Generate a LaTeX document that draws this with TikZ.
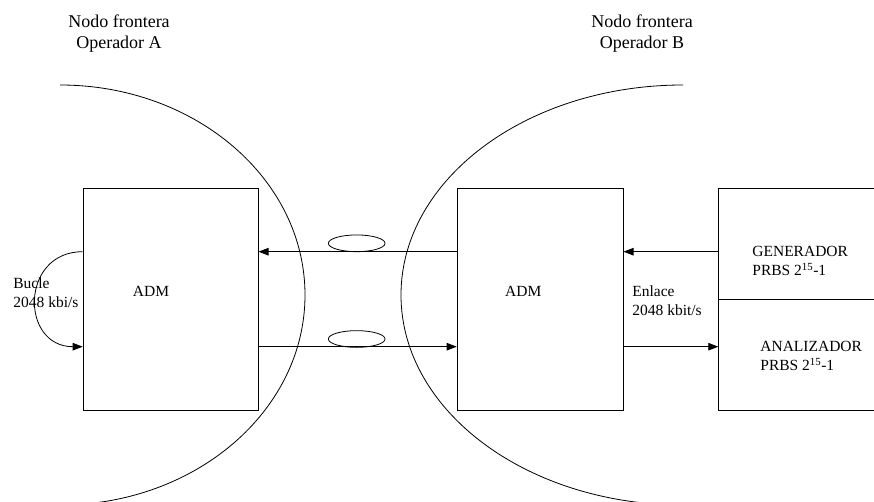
\documentclass[tikz,border=0pt]{standalone}
\usepackage{fontspec}
\setmainfont{Liberation Serif}
\usetikzlibrary{arrows.meta,shapes.geometric}
\begin{document}
\begin{tikzpicture}[x=1pt,y=-1pt,line width=0.8pt,
  box/.style={draw,rectangle,inner sep=0pt,anchor=north west},
  lbl/.style={inner sep=0pt,align=left,anchor=west,font=\fontsize{15.5}{19}\selectfont},
  toplbl/.style={inner sep=0pt,align=center,font=\fontsize{18}{21}\selectfont},
  fiber/.style={draw,ellipse,inner sep=0pt,minimum width=56.7pt,minimum height=16.7pt},
  arr/.style={-{Triangle[length=10pt,width=7.5pt]}}]
\useasboundingbox (0,0) rectangle (874,502);
\clip (0,0) rectangle (874,502);
% operator boundaries
\begin{scope}
  \clip (60,0) rectangle (874,502);
  \draw (60,295) ellipse [x radius=245, y radius=210];
\end{scope}
\begin{scope}
  \clip (0,0) rectangle (683,502);
  \draw (683,295) ellipse [x radius=282, y radius=210];
\end{scope}
% boxes
\node[box,minimum width=175pt,minimum height=221.7pt] (admA) at (82.7,188.3) {};
\node[box,minimum width=166pt,minimum height=221.7pt] (admB) at (456.7,188.3) {};
\node[box,minimum width=175pt,minimum height=111pt] (gen) at (718.3,188.3) {};
\node[box,minimum width=175pt,minimum height=110.7pt] (ana) at (718.3,299.3) {};
% texts
\node[toplbl] (tA) at (119,34) {Nodo frontera\\Operador A};
\node[toplbl] (tB) at (642,34) {Nodo frontera\\Operador B};
\node[lbl,anchor=center] (lA) at (151,291.7) {ADM};
\node[lbl,anchor=center] (lB) at (523.3,291.5) {ADM};
\node[lbl] (lgen) at (752,261) {GENERADOR\\PRBS 2\textsuperscript{15}-1};
\node[lbl] (lana) at (760,356) {ANALIZADOR\\PRBS 2\textsuperscript{15}-1};
\node[lbl] (lenl) at (632,300.5) {Enlace\\2048 kbit/s};
\node[lbl] (lbuc) at (13,293) {Bucle\\2048 kbi/s};
% fibers
\node[fiber] (f1) at (356.7,243.3) {};
\node[fiber] (f2) at (356.7,339) {};
% connectors
\coordinate (yt) at (0,251.7);
\coordinate (yb) at (0,346.7);
\draw[arr] (admB.west |- yt) -- (admA.east |- yt);
\draw[arr] (admA.east |- yb) -- (admB.west |- yb);
\draw[arr] (gen.west |- yt) -- (admB.east |- yt);
\draw[arr] (admB.east |- yb) -- (ana.west |- yb);
\draw[arr] (admA.west |- yt) .. controls (20,251.7) and (20,346.7) .. (admA.west |- yb);
\end{tikzpicture}
\end{document}
